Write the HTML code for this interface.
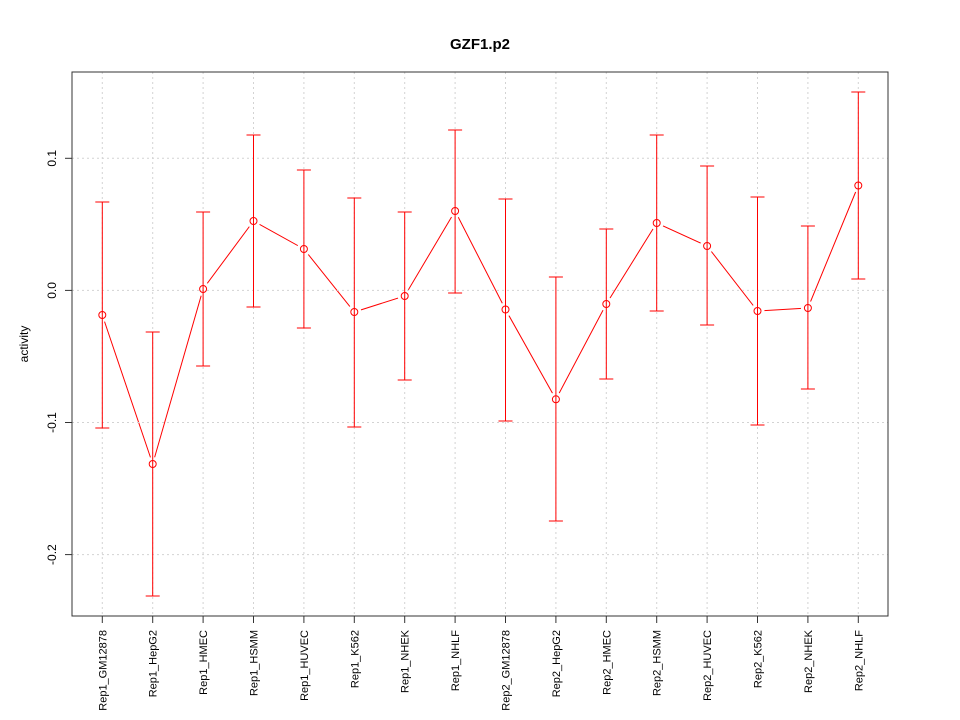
<!DOCTYPE html>
<html><head><meta charset="utf-8"><style>html,body{margin:0;padding:0;background:#fff}svg{display:block}</style></head>
<body>
<svg width="960" height="720" viewBox="0 0 960 720" xmlns="http://www.w3.org/2000/svg" font-family="Liberation Sans, Arial, sans-serif">
<rect width="960" height="720" fill="#fff"/>
<text x="480" y="49" text-anchor="middle" font-size="15" font-weight="bold">GZF1.p2</text>
<!-- connecting lines -->
<polyline fill="none" stroke="#ff0000" stroke-width="1" points="102.3,315 152.7,464 203.1,289 253.5,221 303.9,249 354.3,312 404.7,296 455.1,211 505.5,309.5 555.9,399.3 606.3,304 656.7,223 707.1,246 757.5,311 807.9,308 858.3,185.5"/>
<!-- halos -->
<g fill="#fff">
<circle cx="102.3" cy="315" r="7"/><circle cx="152.7" cy="464" r="7"/><circle cx="203.1" cy="289" r="7"/><circle cx="253.5" cy="221" r="7"/><circle cx="303.9" cy="249" r="7"/><circle cx="354.3" cy="312" r="7"/><circle cx="404.7" cy="296" r="7"/><circle cx="455.1" cy="211" r="7"/><circle cx="505.5" cy="309.5" r="7"/><circle cx="555.9" cy="399.3" r="7"/><circle cx="606.3" cy="304" r="7"/><circle cx="656.7" cy="223" r="7"/><circle cx="707.1" cy="246" r="7"/><circle cx="757.5" cy="311" r="7"/><circle cx="807.9" cy="308" r="7"/><circle cx="858.3" cy="185.5" r="7"/>
</g>
<!-- grid -->
<g stroke="#d3d3d3" stroke-width="1" stroke-dasharray="2,3">
<line x1="102.3" y1="72" x2="102.3" y2="616"/><line x1="152.7" y1="72" x2="152.7" y2="616"/><line x1="203.1" y1="72" x2="203.1" y2="616"/><line x1="253.5" y1="72" x2="253.5" y2="616"/><line x1="303.9" y1="72" x2="303.9" y2="616"/><line x1="354.3" y1="72" x2="354.3" y2="616"/><line x1="404.7" y1="72" x2="404.7" y2="616"/><line x1="455.1" y1="72" x2="455.1" y2="616"/><line x1="505.5" y1="72" x2="505.5" y2="616"/><line x1="555.9" y1="72" x2="555.9" y2="616"/><line x1="606.3" y1="72" x2="606.3" y2="616"/><line x1="656.7" y1="72" x2="656.7" y2="616"/><line x1="707.1" y1="72" x2="707.1" y2="616"/><line x1="757.5" y1="72" x2="757.5" y2="616"/><line x1="807.9" y1="72" x2="807.9" y2="616"/><line x1="858.3" y1="72" x2="858.3" y2="616"/>
<line x1="72" y1="158.3" x2="888" y2="158.3"/><line x1="72" y1="290.4" x2="888" y2="290.4"/><line x1="72" y1="422.5" x2="888" y2="422.5"/><line x1="72" y1="554.6" x2="888" y2="554.6"/>
</g>
<!-- error bars -->
<g stroke="#ff0000" stroke-width="1" fill="none">
<path d="M102.3,202V428M95.3,202H109.3M95.3,428H109.3"/>
<path d="M152.7,332V596M145.7,332H159.7M145.7,596H159.7"/>
<path d="M203.1,212V366M196.1,212H210.1M196.1,366H210.1"/>
<path d="M253.5,135V307M246.5,135H260.5M246.5,307H260.5"/>
<path d="M303.9,170V328M296.9,170H310.9M296.9,328H310.9"/>
<path d="M354.3,198V427M347.3,198H361.3M347.3,427H361.3"/>
<path d="M404.7,212V380M397.7,212H411.7M397.7,380H411.7"/>
<path d="M455.1,130V293M448.1,130H462.1M448.1,293H462.1"/>
<path d="M505.5,199V421M498.5,199H512.5M498.5,421H512.5"/>
<path d="M555.9,277V521M548.9,277H562.9M548.9,521H562.9"/>
<path d="M606.3,229V379M599.3,229H613.3M599.3,379H613.3"/>
<path d="M656.7,135V311M649.7,135H663.7M649.7,311H663.7"/>
<path d="M707.1,166V325M700.1,166H714.1M700.1,325H714.1"/>
<path d="M757.5,197V425M750.5,197H764.5M750.5,425H764.5"/>
<path d="M807.9,226V389M800.9,226H814.9M800.9,389H814.9"/>
<path d="M858.3,92V279M851.3,92H865.3M851.3,279H865.3"/>
</g>
<!-- points -->
<g stroke="#ff0000" stroke-width="1" fill="none">
<circle cx="102.3" cy="315" r="3.5"/><circle cx="152.7" cy="464" r="3.5"/><circle cx="203.1" cy="289" r="3.5"/><circle cx="253.5" cy="221" r="3.5"/><circle cx="303.9" cy="249" r="3.5"/><circle cx="354.3" cy="312" r="3.5"/><circle cx="404.7" cy="296" r="3.5"/><circle cx="455.1" cy="211" r="3.5"/><circle cx="505.5" cy="309.5" r="3.5"/><circle cx="555.9" cy="399.3" r="3.5"/><circle cx="606.3" cy="304" r="3.5"/><circle cx="656.7" cy="223" r="3.5"/><circle cx="707.1" cy="246" r="3.5"/><circle cx="757.5" cy="311" r="3.5"/><circle cx="807.9" cy="308" r="3.5"/><circle cx="858.3" cy="185.5" r="3.5"/>
</g>
<!-- box -->
<rect x="72" y="72" width="816" height="544" fill="none" stroke="#333" stroke-width="1"/>
<!-- y ticks -->
<g stroke="#333" stroke-width="1">
<line x1="65" y1="158.3" x2="72" y2="158.3"/><line x1="65" y1="290.4" x2="72" y2="290.4"/><line x1="65" y1="422.5" x2="72" y2="422.5"/><line x1="65" y1="554.6" x2="72" y2="554.6"/>
</g>
<g font-size="12" fill="#000" text-anchor="middle">
<text transform="translate(56,158.3) rotate(-90)">0.1</text>
<text transform="translate(56,290.4) rotate(-90)">0.0</text>
<text transform="translate(56,422.5) rotate(-90)">-0.1</text>
<text transform="translate(56,554.6) rotate(-90)">-0.2</text>
<text transform="translate(28,344) rotate(-90)">activity</text>
</g>
<!-- x ticks -->
<g stroke="#333" stroke-width="1">
<line x1="102.3" y1="616" x2="102.3" y2="623"/><line x1="152.7" y1="616" x2="152.7" y2="623"/><line x1="203.1" y1="616" x2="203.1" y2="623"/><line x1="253.5" y1="616" x2="253.5" y2="623"/><line x1="303.9" y1="616" x2="303.9" y2="623"/><line x1="354.3" y1="616" x2="354.3" y2="623"/><line x1="404.7" y1="616" x2="404.7" y2="623"/><line x1="455.1" y1="616" x2="455.1" y2="623"/><line x1="505.5" y1="616" x2="505.5" y2="623"/><line x1="555.9" y1="616" x2="555.9" y2="623"/><line x1="606.3" y1="616" x2="606.3" y2="623"/><line x1="656.7" y1="616" x2="656.7" y2="623"/><line x1="707.1" y1="616" x2="707.1" y2="623"/><line x1="757.5" y1="616" x2="757.5" y2="623"/><line x1="807.9" y1="616" x2="807.9" y2="623"/><line x1="858.3" y1="616" x2="858.3" y2="623"/>
</g>
<g font-size="11" fill="#000" text-anchor="end">
<text transform="translate(106.3,630) rotate(-90)">Rep1_GM12878</text>
<text transform="translate(156.7,630) rotate(-90)">Rep1_HepG2</text>
<text transform="translate(207.1,630) rotate(-90)">Rep1_HMEC</text>
<text transform="translate(257.5,630) rotate(-90)">Rep1_HSMM</text>
<text transform="translate(307.9,630) rotate(-90)">Rep1_HUVEC</text>
<text transform="translate(358.3,630) rotate(-90)">Rep1_K562</text>
<text transform="translate(408.7,630) rotate(-90)">Rep1_NHEK</text>
<text transform="translate(459.1,630) rotate(-90)">Rep1_NHLF</text>
<text transform="translate(509.5,630) rotate(-90)">Rep2_GM12878</text>
<text transform="translate(559.9,630) rotate(-90)">Rep2_HepG2</text>
<text transform="translate(610.3,630) rotate(-90)">Rep2_HMEC</text>
<text transform="translate(660.7,630) rotate(-90)">Rep2_HSMM</text>
<text transform="translate(711.1,630) rotate(-90)">Rep2_HUVEC</text>
<text transform="translate(761.5,630) rotate(-90)">Rep2_K562</text>
<text transform="translate(811.9,630) rotate(-90)">Rep2_NHEK</text>
<text transform="translate(862.3,630) rotate(-90)">Rep2_NHLF</text>
</g>
</svg>
</body></html>
